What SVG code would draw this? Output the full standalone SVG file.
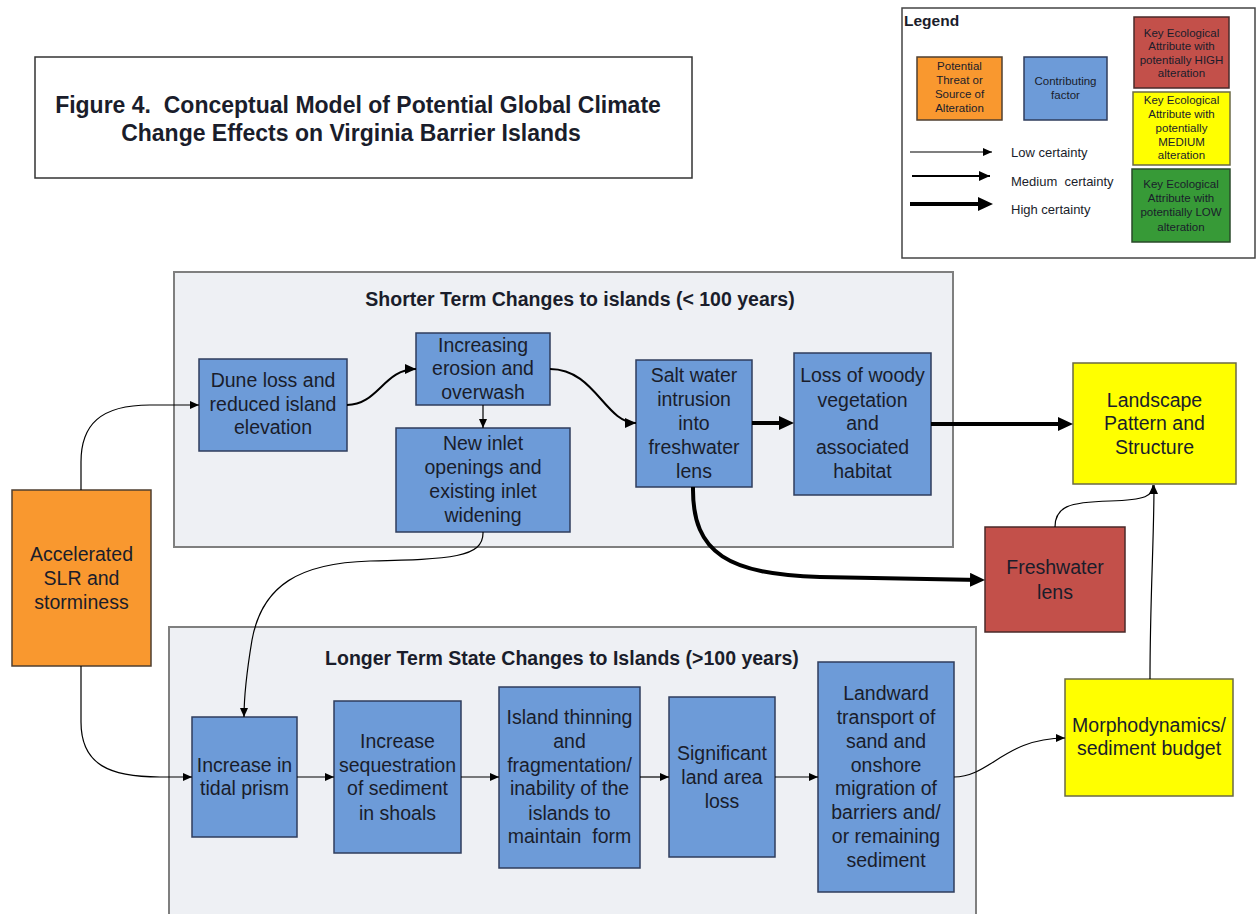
<svg xmlns="http://www.w3.org/2000/svg" width="1257" height="914" viewBox="0 0 1257 914">
<defs>
<style>
text{font-family:"Liberation Sans",Arial,sans-serif;fill:#1a1d2b;text-anchor:middle;white-space:pre}
.n{font-size:19.5px}
.lg{font-size:11.5px}
.lt{font-size:13px;text-anchor:start}
.hd{font-weight:bold}
.blue{fill:#6d9bd8;stroke:#2f3d5c;stroke-width:1.5}
.orange{fill:#f9982f;stroke:#4f3f30;stroke-width:1.5}
.red{fill:#c3504a;stroke:#4a2a2a;stroke-width:1.5}
.yellow{fill:#ffff00;stroke:#6b6a45;stroke-width:1.5}
.green{fill:#379a37;stroke:#2a4a2a;stroke-width:1.5}
.cont{fill:#eef0f4;stroke:#7f7f7f;stroke-width:2}
.c{fill:none;stroke:#000}
.t1{stroke-width:1.2;marker-end:url(#aThin)}
.t2{stroke-width:2;marker-end:url(#aMed)}
.t3{stroke-width:4;marker-end:url(#aThick)}
</style>
<marker id="aThin" markerUnits="userSpaceOnUse" markerWidth="10" markerHeight="8" refX="9" refY="4" orient="auto"><path d="M0,0 L9,4 L0,8 z" fill="#000"/></marker>
<marker id="aMed" markerUnits="userSpaceOnUse" markerWidth="12" markerHeight="10" refX="11" refY="5" orient="auto"><path d="M0,0 L11,5 L0,10 z" fill="#000"/></marker>
<marker id="aThick" markerUnits="userSpaceOnUse" markerWidth="16" markerHeight="14" refX="10" refY="7" orient="auto"><path d="M0,0 L15,7 L0,14 z" fill="#000"/></marker>
</defs>
<rect width="1257" height="914" fill="#fff"/>

<g id="title">
<rect x="35" y="57" width="657" height="121" fill="#fff" stroke="#333" stroke-width="1.5"/>
<text class="hd" x="358" y="113" xml:space="preserve" style="font-size:23px">Figure 4.  Conceptual Model of Potential Global Climate</text>
<text class="hd" x="351" y="141" style="font-size:23px">Change Effects on Virginia Barrier Islands</text>
</g>

<g id="legend">
<rect x="902" y="8" width="353" height="250" fill="#fff" stroke="#444" stroke-width="1.5"/>
<text class="hd" x="904" y="26" style="font-size:15.5px;text-anchor:start">Legend</text>
<rect class="orange" x="917" y="57" width="85" height="63"/>
<text class="lg" x="959.5" y="70">Potential</text>
<text class="lg" x="959.5" y="84">Threat or</text>
<text class="lg" x="959.5" y="98">Source of</text>
<text class="lg" x="959.5" y="112">Alteration</text>
<rect class="blue" x="1024" y="57" width="83" height="63"/>
<text class="lg" x="1065.5" y="85">Contributing</text>
<text class="lg" x="1065.5" y="99">factor</text>
<rect class="red" x="1134" y="17" width="95" height="71"/>
<text class="lg" x="1181.5" y="37">Key Ecological</text>
<text class="lg" x="1181.5" y="50">Attribute with</text>
<text class="lg" x="1181.5" y="64">potentially HIGH</text>
<text class="lg" x="1181.5" y="77">alteration</text>
<rect class="yellow" x="1133" y="92" width="97" height="73"/>
<text class="lg" x="1181.5" y="104">Key Ecological</text>
<text class="lg" x="1181.5" y="118">Attribute with</text>
<text class="lg" x="1181.5" y="132">potentially</text>
<text class="lg" x="1181.5" y="146">MEDIUM</text>
<text class="lg" x="1181.5" y="159">alteration</text>
<rect class="green" x="1132" y="169" width="98" height="73"/>
<text class="lg" x="1181" y="188">Key Ecological</text>
<text class="lg" x="1181" y="202">Attribute with</text>
<text class="lg" x="1181" y="216">potentially LOW</text>
<text class="lg" x="1181" y="231">alteration</text>
<path class="c t1" d="M910,152 L992,152"/>
<path class="c t2" d="M912,176 L990,176"/>
<path class="c t3" d="M910,204 L988,204"/>
<text class="lt" x="1011" y="157">Low certainty</text>
<text class="lt" x="1011" y="186" xml:space="preserve">Medium  certainty</text>
<text class="lt" x="1011" y="214">High certainty</text>
</g>

<g id="shorter-term">
<rect class="cont" x="174" y="272" width="779" height="275"/>
<text class="hd" x="580" y="306" style="font-size:19.5px">Shorter Term Changes to islands (&lt; 100 years)</text>
</g>
<g id="longer-term">
<rect class="cont" x="169" y="627" width="807" height="320"/>
<text class="hd" x="562" y="665" style="font-size:19.5px">Longer Term State Changes to Islands (&gt;100 years)</text>
</g>

<g id="accelerated-slr">
<rect class="orange" x="12" y="490" width="139" height="176"/>
<text class="n" x="81.5" y="561">Accelerated</text>
<text class="n" x="81.5" y="585">SLR and</text>
<text class="n" x="81.5" y="609">storminess</text>
</g>
<g id="dune-loss">
<rect class="blue" x="199" y="359" width="148" height="92"/>
<text class="n" x="273" y="387">Dune loss and</text>
<text class="n" x="273" y="411">reduced island</text>
<text class="n" x="273" y="434">elevation</text>
</g>
<g id="increasing-erosion">
<rect class="blue" x="416" y="333" width="134" height="72"/>
<text class="n" x="483" y="352">Increasing</text>
<text class="n" x="483" y="375">erosion and</text>
<text class="n" x="483" y="399">overwash</text>
</g>
<g id="new-inlet">
<rect class="blue" x="396" y="428" width="174" height="104"/>
<text class="n" x="483" y="450">New inlet</text>
<text class="n" x="483" y="474">openings and</text>
<text class="n" x="483" y="498">existing inlet</text>
<text class="n" x="483" y="522">widening</text>
</g>
<g id="salt-water">
<rect class="blue" x="636" y="360" width="116" height="127"/>
<text class="n" x="694" y="382">Salt water</text>
<text class="n" x="694" y="406">intrusion</text>
<text class="n" x="694" y="430">into</text>
<text class="n" x="694" y="454">freshwater</text>
<text class="n" x="694" y="478">lens</text>
</g>
<g id="loss-woody">
<rect class="blue" x="794" y="353" width="137" height="142"/>
<text class="n" x="862.5" y="382">Loss of woody</text>
<text class="n" x="862.5" y="407">vegetation</text>
<text class="n" x="862.5" y="430">and</text>
<text class="n" x="862.5" y="454">associated</text>
<text class="n" x="862.5" y="478">habitat</text>
</g>
<g id="landscape">
<rect class="yellow" x="1073" y="363" width="163" height="121"/>
<text class="n" x="1154.5" y="407">Landscape</text>
<text class="n" x="1154.5" y="430">Pattern and</text>
<text class="n" x="1154.5" y="454">Structure</text>
</g>
<g id="freshwater-lens">
<rect class="red" x="985" y="527" width="140" height="105"/>
<text class="n" x="1055" y="574">Freshwater</text>
<text class="n" x="1055" y="599">lens</text>
</g>
<g id="tidal-prism">
<rect class="blue" x="192" y="717" width="105" height="120"/>
<text class="n" x="244.5" y="772">Increase in</text>
<text class="n" x="244.5" y="795">tidal prism</text>
</g>
<g id="sequestration">
<rect class="blue" x="334" y="701" width="127" height="152"/>
<text class="n" x="397.5" y="748">Increase</text>
<text class="n" x="397.5" y="772">sequestration</text>
<text class="n" x="397.5" y="795">of sediment</text>
<text class="n" x="397.5" y="820">in shoals</text>
</g>
<g id="island-thinning">
<rect class="blue" x="499" y="687" width="141" height="181"/>
<text class="n" x="569.5" y="724">Island thinning</text>
<text class="n" x="569.5" y="748">and</text>
<text class="n" x="569.5" y="772">fragmentation/</text>
<text class="n" x="569.5" y="795">inability of the</text>
<text class="n" x="569.5" y="820">islands to</text>
<text class="n" x="569.5" y="843" xml:space="preserve">maintain  form</text>
</g>
<g id="land-area-loss">
<rect class="blue" x="669" y="697" width="106" height="160"/>
<text class="n" x="722" y="760">Significant</text>
<text class="n" x="722" y="784">land area</text>
<text class="n" x="722" y="808">loss</text>
</g>
<g id="landward-transport">
<rect class="blue" x="818" y="662" width="136" height="230"/>
<text class="n" x="886" y="700">Landward</text>
<text class="n" x="886" y="724">transport of</text>
<text class="n" x="886" y="748">sand and</text>
<text class="n" x="886" y="772">onshore</text>
<text class="n" x="886" y="795">migration of</text>
<text class="n" x="886" y="819">barriers and/</text>
<text class="n" x="886" y="843">or remaining</text>
<text class="n" x="886" y="867">sediment</text>
</g>
<g id="morphodynamics">
<rect class="yellow" x="1065" y="679" width="168" height="117"/>
<text class="n" x="1149" y="732">Morphodynamics/</text>
<text class="n" x="1149" y="755">sediment budget</text>
</g>

<g id="connectors">
<path class="c t1" d="M81,490 L81,462 C81,425 100,405 150,405 L199,405"/>
<path class="c t2" d="M347,405 C378,405 384,369 416,369"/>
<path class="c t1" d="M483,405 L483,428"/>
<path class="c t2" d="M550,369 C595,369 605,423 636,423"/>
<path class="c t3" d="M752,423 L789,423"/>
<path class="c t3" d="M931,424 L1068,424"/>
<path class="c t3" d="M693,487 C692,555 730,574 820,577 L980,580"/>
<path class="c t1" d="M1055,527 C1055,507 1068,502 1110,501 C1146,500 1153,496 1153,485"/>
<path class="c t1" d="M1150,679 C1150,600 1154,540 1154,485"/>
<path class="c t1" d="M81,666 L81,722 C81,765 110,777 160,777 L192,777"/>
<path class="c t1" d="M483,532 C484,558 450,559 370,561 C300,563 262,585 252,640 C247,670 244,695 244,717"/>
<path class="c t1" d="M297,777 L334,777"/>
<path class="c t1" d="M461,777 L499,777"/>
<path class="c t1" d="M640,777 L669,777"/>
<path class="c t1" d="M775,777 L818,777"/>
<path class="c t1" d="M954,777 C990,777 1005,738 1065,738"/>
</g>
</svg>
